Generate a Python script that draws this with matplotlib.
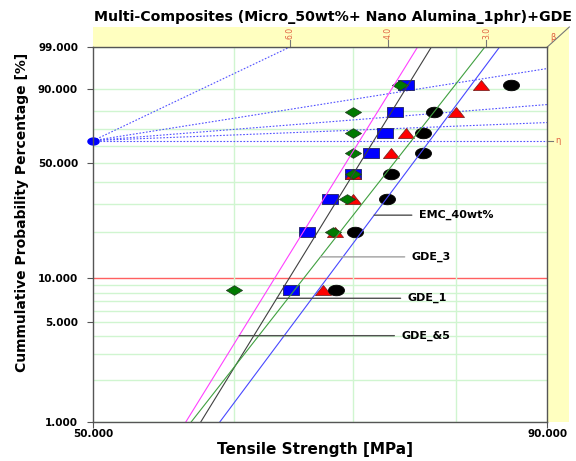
import numpy as np
import matplotlib
matplotlib.use('Agg')
import matplotlib.pyplot as plt
from matplotlib.patches import Polygon
from matplotlib.ticker import NullLocator

# rangs medians (en %) et resistances
rangs = [8.3, 20.2, 32.1, 44.0, 56.0, 67.9, 79.8, 91.7]
gde_5 = [60.0, 68.2, 69.4, 70.0, 70.0, 70.0, 70.0, 74.4]
gde_1 = [64.6, 65.9, 67.9, 70.0, 71.6, 72.9, 73.9, 75.0]
gde_3 = [67.3, 68.4, 70.0, 70.0, 73.5, 75.0, 80.0, 82.6]
emc_40 = [68.5, 70.2, 73.1, 73.5, 76.6, 76.6, 77.7, 85.9]

noms = ['GDE_&5', 'GDE_1', 'GDE_3', 'EMC_40wt%']
etas = [70.6, 71.9, 75.5, 77.3]
betas = [20.4, 20.5, 16.1, 16.9]

pivot_betas = [6.0, 2.0, 1.0, 0.5]
beta_ticks = [6.0, 4.0, 3.0]
y_ticks = [1, 5, 10, 50, 90, 99]
x_ticks = [50, 90]
grid_F = [1, 2, 3, 4, 5, 6, 7, 8, 9, 20, 30, 40, 50, 60, 70, 80, 90, 99]
grid_x = [60, 70, 80]


def fwd(F):
    F = np.clip(np.asarray(F, dtype=float), 1e-9, 100 - 1e-9)
    return np.log(-np.log(1 - F / 100))


def inv(w):
    return 100 * (1 - np.exp(-np.exp(w)))


def quantile(eta, beta, F):
    return eta * (-np.log(1 - np.asarray(F) / 100)) ** (1 / beta)


def ellipse(r=0.66):
    t = np.linspace(0, 2 * np.pi, 41)
    return list(zip(np.cos(t), r * np.sin(t)))


m_carre = [(-1, -0.66), (1, -0.66), (1, 0.66), (-1, 0.66), (-1, -0.66)]
m_losange = [(-1, 0), (0, 0.6), (1, 0), (0, -0.6), (-1, 0)]
m_triangle = [(-1, -0.62), (1, -0.62), (0, 0.62), (-1, -0.62)]

fig = plt.figure(figsize=(5.76, 4.61), dpi=100)
ax = fig.add_axes([93.3 / 576, 1 - 422.3 / 461, 454 / 576, 375.3 / 461])
ax.set_xscale('log')
ax.set_yscale('function', functions=(fwd, inv))
ax.set_xlim(50, 90)
ax.set_ylim(1, 99)

# grille
for F in grid_F:
    ax.axhline(F, color='#d0f5d0', lw=1, zorder=1)
ax.axhline(10, color='#ff6060', lw=1, zorder=1)
for x in grid_x:
    ax.axvline(x, color='#d0f5d0', lw=1, zorder=1)

# droites de pivot (eta / beta)
F_eta = 100 * (1 - np.exp(-1))
for b in pivot_betas:
    x_fin = min(90, 50 * np.exp(fwd(99) / b))
    ax.plot([50, x_fin], [F_eta, inv(b * np.log(x_fin / 50))],
            color='#5050ff', lw=0.8, ls=(0, (1.5, 1.5)), zorder=2)
ax.plot([50, 90], [F_eta, F_eta], color='#5050ff', lw=0.8, ls=(0, (1.5, 1.5)), zorder=2)
ax.plot([50], [F_eta], marker=ellipse(0.62), ms=8, color='#0000ff', ls='none',
        clip_on=False, zorder=6)

# points
styles = {
    'GDE_1': (gde_1, m_carre, '#0000ff', '#202060'),
    'GDE_3': (gde_3, m_triangle, '#ff0000', '#802020'),
    'EMC_40wt%': (emc_40, ellipse(), '#000000', '#000000'),
    'GDE_&5': (gde_5, m_losange, '#007a00', '#204020'),
}
for nom in ['GDE_1', 'GDE_3', 'EMC_40wt%', 'GDE_&5']:
    vals, mk, fc, ec = styles[nom]
    ax.plot(vals, rangs, ls='none', marker=mk, ms=11.5, mfc=fc, mec=ec, mew=0.6, zorder=3)

# droites ajustees
couleurs = ['#ff40ff', '#404040', '#40a040', '#4848ff']
for eta, beta, c in zip(etas, betas, couleurs):
    ax.plot(quantile(eta, beta, [1, 99]), [1, 99], color=c, lw=0.8, zorder=4)

# etiquettes
label_F = [4.05, 7.33, 13.9, 25.6]
label_x = [74.5, 75.1, 75.5, 76.2]
leader = ['#505050', '#505050', '#a0a0a0', '#505050']
for nom, eta, beta, F, lx, lc in zip(noms, etas, betas, label_F, label_x, leader):
    ax.annotate(nom, xy=(quantile(eta, beta, F), F), xytext=(lx, F),
                va='center', ha='left', fontsize=8, fontweight='bold',
                arrowprops=dict(arrowstyle='-', color=lc, lw=1, shrinkA=3, shrinkB=0),
                zorder=5)

# axes
ax.xaxis.set_minor_locator(NullLocator())
ax.yaxis.set_minor_locator(NullLocator())
ax.set_xticks(x_ticks, labels=[f'{v:.3f}' for v in x_ticks])
ax.set_yticks(y_ticks, labels=[f'{v:.3f}' for v in y_ticks])
ax.tick_params(axis='both', length=4, color='#555555', labelsize=7.5)
ax.tick_params(axis='y', pad=7)
ax.tick_params(axis='x', pad=1)
for t in ax.get_xticklabels() + ax.get_yticklabels():
    t.set_fontweight('bold')
for s in ax.spines.values():
    s.set_color('#555555')
    s.set_linewidth(1)
    s.set_zorder(7)

# bandeau jaune (echelle beta)
w, h = 22 / 454, 20 / 375.3
bande = Polygon([(0, 1), (1, 1), (1, 0), (1 + w, 0), (1 + w, 1 + h), (0, 1 + h)],
                closed=True, transform=ax.transAxes, clip_on=False,
                facecolor='#ffffc0', edgecolor='none', zorder=0)
ax.add_patch(bande)
ax.plot([1, 1 + w], [1, 1 + h], transform=ax.transAxes, clip_on=False, color='#777777', lw=0.8)
trans = ax.get_xaxis_transform()
for b in beta_ticks:
    xb = 50 * np.exp(fwd(99) / b)
    ax.plot([xb, xb], [1, 1 + 7 / 375.3], transform=trans, clip_on=False,
            color='#777777', lw=0.8)
    ax.text(xb, 1 + 8 / 375.3, f'{b:.1f}', transform=trans, rotation=90,
            ha='center', va='bottom', fontsize=5.5, color='#e06040')
ax.text(1 + 3 / 454, 1 + 10 / 375.3, 'β', transform=ax.transAxes, fontsize=6,
        color='#e06040', ha='left', va='center')
trans_y = ax.get_yaxis_transform()
ax.plot([1, 1 + 6 / 454], [F_eta, F_eta], transform=trans_y, clip_on=False,
        color='#777777', lw=0.8)
ax.text(1 + 8 / 454, F_eta, 'η', transform=trans_y, fontsize=6, color='#e06040',
        ha='left', va='center')

fig.text(333 / 576, 1 - 17 / 461, 'Multi-Composites (Micro_50wt%+ Nano Alumina_1phr)+GDE',
         ha='center', va='center', fontsize=10.2, fontweight='bold')
fig.text(315 / 576, 1 - 449 / 461, 'Tensile Strength [MPa]', ha='center', va='center',
         fontsize=11, fontweight='bold')
fig.text(22 / 576, 1 - 212 / 461, 'Cummulative Probability Percentage [%]', rotation=90,
         ha='center', va='center', fontsize=10, fontweight='bold')

fig.savefig('out.png', dpi=100)
